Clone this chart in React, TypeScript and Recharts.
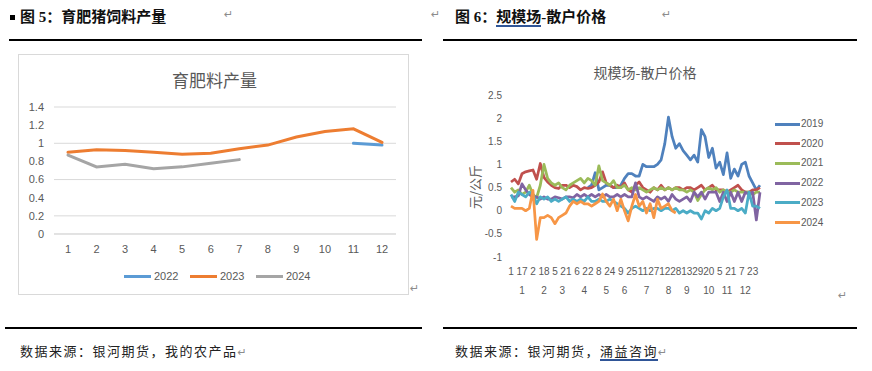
import React from "react";
import { LineChart, Line, XAxis, YAxis, CartesianGrid } from "recharts";

// ---- 图5 育肥料产量 ----
const FEED_MONTHS = ["1", "2", "3", "4", "5", "6", "7", "8", "9", "10", "11", "12"];
const FEED_2022 = [null, null, null, null, null, null, null, null, null, null, 1.0, 0.98];
const FEED_2023 = [0.9, 0.93, 0.92, 0.9, 0.88, 0.89, 0.94, 0.98, 1.07, 1.13, 1.16, 1.01];
const FEED_2024 = [0.87, 0.74, 0.77, 0.72, 0.74, 0.78, 0.82, null, null, null, null, null];
const FEED_TICKS = [0, 0.2, 0.4, 0.6, 0.8, 1, 1.2, 1.4];

// ---- 图6 规模场-散户价格 (one point ~ every 5 days) ----
const DAY_LABELS = ["1", "17", "2", "18", "5", "21", "6", "22", "8", "24", "9", "25", "11", "27", "12", "28", "13", "29", "20", "5", "21", "7", "23"];
const MONTH_LABELS = ["1", "2", "3", "4", "5", "6", "7", "8", "9", "10", "11", "12"];
const MONTH_AT = [3, 9, 14, 20, 26, 31, 37, 43, 48, 54, 59, 64];
const PRICE_TICKS = [-1, -0.5, 0, 0.5, 1, 1.5, 2, 2.5];

const P2019 = [
  null, null, null, null, null, null, null, null, null, null,
  null, null, null, null, null, null, null, null, null, null,
  null, 0.5, 0.55, 0.82, 0.45, 0.5, 0.55, 0.55, 0.5, 0.5,
  0.55, 0.7, 0.8, 0.8, 0.75, 0.75, 1.0, 0.95, 0.95, 0.95,
  1.0, 1.1, 1.45, 2.02, 1.6, 1.35, 1.45, 1.3, 1.2, 1.1,
  1.2, 1.05, 1.75, 1.6, 1.15, 1.35, 0.92, 1.05, 0.78, 1.25,
  0.7, 0.9, 0.75, 1.0, 1.05, 0.75, 0.6, 0.45, 0.55,
];
const P2020 = [
  0.62, 0.68, 0.58, 0.8, 0.84, 0.86, 0.88, 0.68, 1.02, 0.72,
  0.62, 0.55, 0.5, 0.48, 0.55, 0.55, 0.5, 0.55, 0.52, 0.45,
  0.5, 0.48, 0.5, 0.55, 0.62, 0.84, 0.6, 0.55, 0.5, 0.55,
  0.5, 0.6, 0.45, 0.4, 0.55, 0.62, 0.5, 0.45, 0.4, 0.5,
  0.45, 0.55, 0.45, 0.5, 0.45, 0.5, 0.5, 0.45, 0.5, 0.5,
  0.45, 0.5, 0.55, 0.45, 0.5, 0.55, 0.45, 0.45, 0.45, 0.4,
  0.45, 0.5, 0.55, 0.45, 0.4, 0.4, 0.45, 0.45, 0.5,
];
const P2021 = [
  0.5, 0.4, 0.45, 0.35, 0.4, 0.55, 0.35, 0.28, 0.55, 1.0,
  0.7, 0.6, 0.55, 0.6, 0.5, 0.45, 0.55, 0.6, 0.65, 0.7,
  0.6, 0.7, 0.65, 0.55, 0.97, 0.65, 0.6, 0.55, 0.65, 0.5,
  0.5, 0.55, 0.45, 0.5, 0.45, 0.5, 0.45, 0.4, 0.45, 0.5,
  0.45, 0.5, 0.45, 0.5, 0.45, 0.5, 0.45, 0.45, 0.4, 0.45,
  0.4, 0.22, 0.35, 0.45, 0.5, 0.45, 0.5, 0.4, 0.45, 0.4,
  0.4, 0.45, 0.4, 0.4, 0.4, 0.4, 0.35, 0.4, 0.4,
];
const P2022 = [
  0.3, 0.3, 0.32, 0.58, 0.45, 0.35, 0.3, 0.3, 0.25, 0.3,
  0.25, 0.25, 0.3, 0.28, 0.25, 0.3, 0.3, 0.28, 0.35, 0.3,
  0.35, 0.3, 0.35, 0.3, 0.35, 0.3, 0.35, 0.3, 0.3, 0.35,
  0.3, 0.35, 0.3, 0.3, 0.6, 0.3, 0.25, 0.3, 0.25, 0.2,
  0.3, 0.25, 0.3, 0.2, 0.35, 0.25, 0.2, 0.25, 0.3, 0.2,
  0.4, 0.3, 0.4, 0.25, 0.4, 0.4, 0.4, 0.2, 0.4, 0.2,
  0.4, 0.2, 0.4, 0.2, 0.4, 0.35, 0.4, -0.2, 0.4,
];
const P2023 = [
  0.35, 0.2, 0.4, 0.35, 0.3, 0.4, 0.35, 0.15, 0.3, 0.25,
  0.3, 0.2, 0.25, 0.2, 0.25, 0.3, 0.2, 0.25, 0.2, 0.25,
  0.2, 0.3, 0.2, 0.2, 0.25, 0.2, 0.2, 0.25, 0.2, 0.15,
  0.1, 0.05, -0.05, 0.05, 0.1, 0.05, 0.0, 0.05, 0.0, 0.05,
  0.05, 0.0, 0.05, 0.05, 0.0, 0.05, -0.05, 0.0, -0.05, 0.0,
  -0.05, -0.05, -0.18, 0.0, -0.05, 0.05, 0.0, 0.05, 0.3, 0.45,
  0.05, 0.05, 0.0, 0.05, -0.05, 0.4, 0.1, 0.1, 0.05,
];
const P2024 = [
  0.1, 0.05, 0.05, 0.05, 0.0, 0.05, 0.44, -0.62, -0.15, -0.15,
  -0.1, -0.15, -0.28, -0.15, -0.1, -0.05, 0.1, 0.2, 0.15, 0.2,
  0.15, 0.15, 0.1, 0.15, 0.2, 0.36, 0.2, 0.1, 0.25, 0.0,
  0.25, 0.0, -0.22, 0.1, 0.35, 0.1, 0.2, -0.05, 0.15, -0.15,
  0.25, 0.05, 0.1, 0.15, 0.0, -0.05, null, null, null, null,
  null, null, null, null, null, null, null, null, null, null,
  null, null, null, null, null, null, null, null, null,
];

const PRICE_SERIES = [
  { key: "y2019", name: "2019", color: "#4F81BD", values: P2019 },
  { key: "y2020", name: "2020", color: "#C0504D", values: P2020 },
  { key: "y2021", name: "2021", color: "#9BBB59", values: P2021 },
  { key: "y2022", name: "2022", color: "#8064A2", values: P2022 },
  { key: "y2023", name: "2023", color: "#4BACC6", values: P2023 },
  { key: "y2024", name: "2024", color: "#F79646", values: P2024 },
];

const FEED_SERIES = [
  { key: "y2022", name: "2022", color: "#5B9BD5", values: FEED_2022 },
  { key: "y2023", name: "2023", color: "#ED7D31", values: FEED_2023 },
  { key: "y2024", name: "2024", color: "#A5A5A5", values: FEED_2024 },
];

const feedRows = FEED_MONTHS.map((m, i) => {
  const row: Record<string, any> = { month: m };
  FEED_SERIES.forEach((s) => (row[s.key] = s.values[i]));
  return row;
});

const priceRows = P2020.map((_, i) => {
  const row: Record<string, any> = {
    i,
    day: i % 3 === 0 ? DAY_LABELS[i / 3] ?? "" : "",
    month: MONTH_AT.indexOf(i) >= 0 ? MONTH_LABELS[MONTH_AT.indexOf(i)] : "",
  };
  PRICE_SERIES.forEach((s) => (row[s.key] = s.values[i]));
  return row;
});

const AXIS_GREY = "#595959";
const LATIN = "'Liberation Sans', Arial, sans-serif";
const CJK = "'Noto Sans CJK SC', sans-serif";
const DOC = "'Liberation Serif', 'Noto Sans CJK SC', serif";

function PriceTick(props: any) {
  const { x, y, payload } = props;
  const row = priceRows[payload.value];
  if (!row) return null;
  return (
    <g>
      {row.day && (
        <text x={x} y={y + 14} dy="0.35em" textAnchor="middle" fontSize={10} fill={AXIS_GREY} fontFamily={LATIN}>
          {row.day}
        </text>
      )}
      {row.month && (
        <text x={x} y={y + 33} dy="0.35em" textAnchor="middle" fontSize={10} fill={AXIS_GREY} fontFamily={LATIN}>
          {row.month}
        </text>
      )}
    </g>
  );
}

const abs = (left: number, top: number, extra: React.CSSProperties = {}): React.CSSProperties => ({
  position: "absolute",
  left,
  top,
  whiteSpace: "nowrap",
  ...extra,
});

const mark: React.CSSProperties = { color: "#8c8c8c", fontFamily: "'DejaVu Sans', sans-serif", fontSize: 11 };

export default function App() {
  return (
    <div style={{ position: "absolute", left: 0, top: 0, width: 872, height: 371, background: "#fff", overflow: "hidden" }}>
      {/* headings */}
      <div style={abs(10, 15, { width: 5, height: 5, background: "#000" })} />
      <div style={abs(20, 7, { fontFamily: DOC, fontWeight: 700, fontSize: 15, lineHeight: "20px", color: "#111" })}>
        图 5：育肥猪饲料产量
      </div>
      <div style={abs(224, 8, mark)}>↵</div>
      <div style={abs(431, 8, mark)}>↵</div>
      <div style={abs(455, 7, { fontFamily: DOC, fontWeight: 700, fontSize: 15, lineHeight: "20px", color: "#111" })}>
        图 6：
        <span style={{ borderBottom: "2px solid #2F5597" }}>规模场</span>
        -散户价格
      </div>
      <div style={abs(662, 8, mark)}>↵</div>
      <div style={abs(9, 39, { width: 413, height: 2, background: "#000" })} />
      <div style={abs(443, 39, { width: 414, height: 2, background: "#000" })} />

      {/* left chart */}
      <div style={abs(18, 54, { width: 389, height: 239, border: "1px solid #d9d9d9" })}>
        <div style={abs(0, 13, { width: 391, textAlign: "center", fontFamily: CJK, fontSize: 17, color: AXIS_GREY, lineHeight: "24px" })}>
          育肥料产量
        </div>
        <div style={abs(0, 0)}>
          <LineChart width={391} height={241} data={feedRows} margin={{ top: 52, right: 14, bottom: 0, left: 0 }}>
            <CartesianGrid vertical={false} stroke="#d9d9d9" />
            <XAxis
              dataKey="month"
              height={62}
              padding={{ left: 14, right: 14 }}
              axisLine={{ stroke: "#d9d9d9" }}
              tickLine={false}
              tickSize={0}
              tickMargin={11}
              interval={0}
              tick={{ fontSize: 11, fill: AXIS_GREY, fontFamily: LATIN }}
            />
            <YAxis
              width={35}
              domain={[0, 1.4]}
              ticks={FEED_TICKS}
              axisLine={false}
              tickLine={false}
              tickSize={0}
              tickMargin={10}
              tick={{ fontSize: 11, fill: AXIS_GREY, fontFamily: LATIN }}
            />
            {FEED_SERIES.map((s) => (
              <Line
                key={s.key}
                dataKey={s.key}
                name={s.name}
                stroke={s.color}
                strokeWidth={3}
                dot={false}
                strokeLinecap="round"
                isAnimationActive={false}
              />
            ))}
          </LineChart>
        </div>
        {FEED_SERIES.map((s, k) => (
          <div key={s.key} style={abs(105 + k * 66, 215, { display: "flex", alignItems: "center", fontFamily: LATIN, fontSize: 11, color: AXIS_GREY })}>
            <span style={{ display: "inline-block", width: 27, height: 3, background: s.color, marginRight: 3 }} />
            {s.name}
          </div>
        ))}
      </div>
      <div style={abs(410, 282, mark)}>↵</div>

      {/* right chart */}
      <div style={abs(455, 50, { width: 405, height: 250 })}>
        <div style={abs(0, 12, { width: 380, textAlign: "center", fontFamily: CJK, fontSize: 14, color: AXIS_GREY, lineHeight: "20px" })}>
          规模场-散户价格
        </div>
        <div style={abs(20, 137, { transform: "translate(-50%, -50%) rotate(-90deg)", fontFamily: CJK, fontSize: 13, color: AXIS_GREY, lineHeight: "16px" })}>
          元/公斤
        </div>
        <div style={abs(0, 0)}>
          <LineChart width={405} height={250} data={priceRows} margin={{ top: 45, right: 100, bottom: 0, left: 0 }}>
            <XAxis
              dataKey="i"
              height={43}
              axisLine={false}
              tickLine={false}
              tickSize={0}
              tickMargin={0}
              interval={0}
              tick={<PriceTick />}
            />
            <YAxis
              width={56}
              domain={[-1, 2.5]}
              ticks={PRICE_TICKS}
              axisLine={false}
              tickLine={false}
              tickSize={0}
              tickMargin={9}
              tick={{ fontSize: 10, fill: AXIS_GREY, fontFamily: LATIN }}
            />
            {PRICE_SERIES.map((s) => (
              <Line
                key={s.key}
                dataKey={s.key}
                name={s.name}
                stroke={s.color}
                strokeWidth={2.75}
                dot={false}
                strokeLinejoin="round"
                isAnimationActive={false}
              />
            ))}
          </LineChart>
        </div>
        {PRICE_SERIES.map((s, k) => (
          <div key={s.key} style={abs(320, 68 + k * 19.7, { display: "flex", alignItems: "center", fontFamily: LATIN, fontSize: 10, color: AXIS_GREY, lineHeight: "12px" })}>
            <span style={{ display: "inline-block", width: 25, height: 3, background: s.color, marginRight: 1 }} />
            {s.name}
          </div>
        ))}
      </div>
      <div style={abs(838, 289, mark)}>↵</div>

      {/* footers */}
      <div style={abs(5, 327, { width: 417, height: 1.5, background: "#000" })} />
      <div style={abs(443, 327, { width: 414, height: 1.5, background: "#000" })} />
      <div style={abs(20, 343, { fontFamily: DOC, fontSize: 13, letterSpacing: 1.5, color: "#222", lineHeight: "18px" })}>
        数据来源：银河期货，我的农产品<span style={mark}>↵</span>
      </div>
      <div style={abs(455, 343, { fontFamily: DOC, fontSize: 13, letterSpacing: 1.5, color: "#222", lineHeight: "18px" })}>
        数据来源：银河期货，
        <span style={{ borderBottom: "2px solid #2F5597" }}>涌益咨询</span>
        <span style={mark}>↵</span>
      </div>
    </div>
  );
}
